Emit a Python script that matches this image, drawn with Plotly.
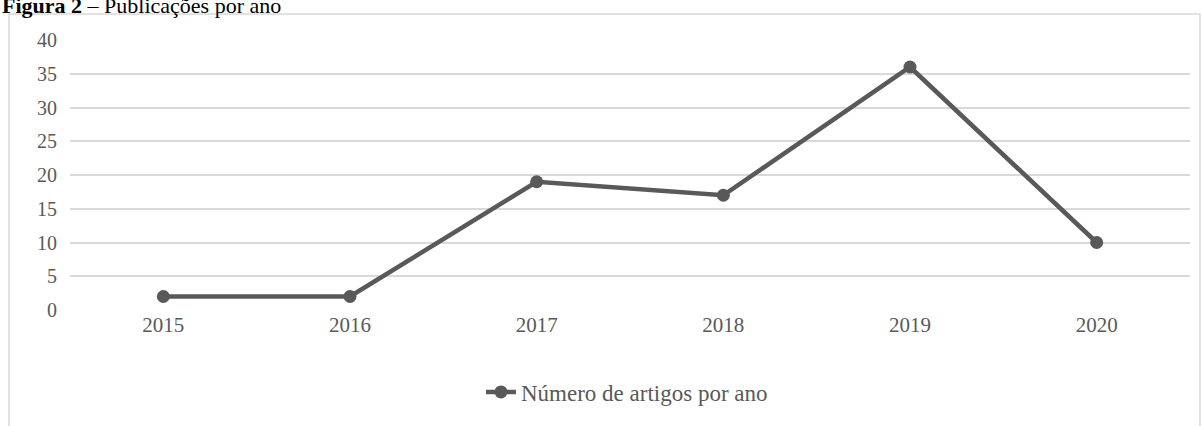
import plotly.graph_objects as go

years = ["2015", "2016", "2017", "2018", "2019", "2020"]
articles = [2, 2, 19, 17, 36, 10]
y_ticks = [0, 5, 10, 15, 20, 25, 30, 35, 40]
series_name = "Número de artigos por ano"
title_bold = "Figura 2"
title_rest = " – Publicações por ano"

W, H = 1203, 426
L, R, T, B = 70, 13, 40, 116
pw, ph = W - L - R, H - T - B

def px_x(x):
    return (x - L) / pw

def px_y(y):
    return (H - B - y) / ph

grey = "#595959"
serif = "Times New Roman"

fig = go.Figure()
fig.add_trace(go.Scatter(
    x=years, y=articles, name=series_name, mode="lines+markers",
    line=dict(color=grey, width=4.5),
    marker=dict(color=grey, size=13),
))

fig.update_layout(
    width=W, height=H,
    font=dict(family=serif, color=grey),
    margin=dict(l=L, r=R, t=T, b=B, pad=0),
    paper_bgcolor="white", plot_bgcolor="white",
    showlegend=True,
    legend=dict(orientation="h", x=px_x(627), y=px_y(392), xanchor="center", yanchor="middle",
                font=dict(family=serif, size=23, color=grey), itemwidth=30),
    xaxis=dict(type="category", range=[-0.5, 5.5], showgrid=False, zeroline=False,
               showline=False, ticks="", tickfont=dict(family=serif, size=21, color=grey)),
    yaxis=dict(range=[0, 40], tickvals=y_ticks, showgrid=True, gridcolor="#d9d9d9",
               gridwidth=1.5, zeroline=False, showline=False, ticks="",
               ticklabelstandoff=12,
               tickfont=dict(family=serif, size=20, color=grey)),
    shapes=[dict(type="rect", xref="paper", yref="paper",
                 x0=px_x(9), x1=px_x(1200), y0=px_y(440), y1=px_y(14),
                 line=dict(color="#d9d9d9", width=1.5), layer="below")],
    annotations=[dict(xref="paper", yref="paper", x=px_x(0), y=px_y(20),
                      xanchor="left", yanchor="bottom", showarrow=False,
                      text=f"<b>{title_bold}</b>{title_rest}",
                      font=dict(family=serif, size=22, color="black"))],
)
fig.write_html("out.html")
